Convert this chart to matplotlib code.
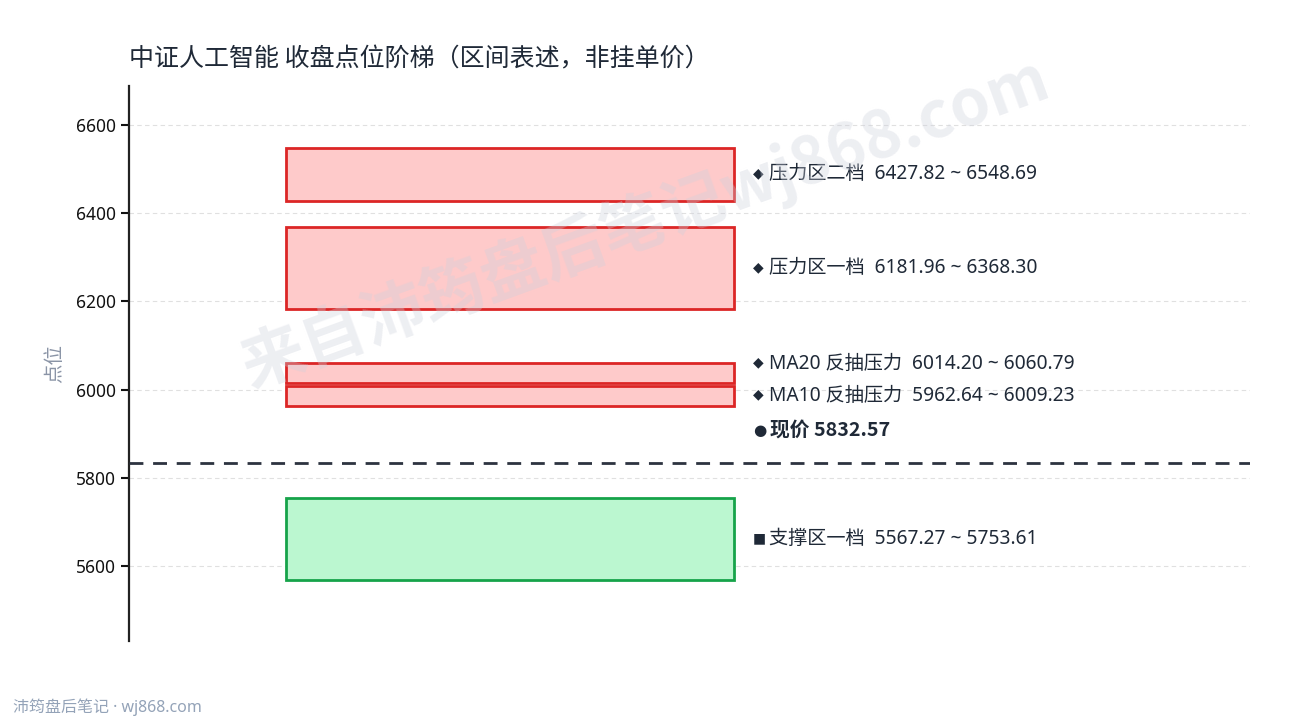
import matplotlib
matplotlib.use("Agg")
import matplotlib.pyplot as plt
from matplotlib.patches import Rectangle

plt.rcParams['font.family'] = ['Noto Sans CJK SC', 'DejaVu Sans']
MIX = ['Noto Sans', 'Noto Sans CJK SC', 'DejaVu Sans']

# ---- data ----
zone_names = ["压力区二档", "压力区一档", "MA20 反抽压力", "MA10 反抽压力", "支撑区一档"]
zone_low = [6427.82, 6181.96, 6014.20, 5962.64, 5567.27]
zone_high = [6548.69, 6368.30, 6060.79, 6009.23, 5753.61]
zone_kind = ["res", "res", "res", "res", "sup"]
price_label = "现价"
price = 5832.57
yticks = [5600, 5800, 6000, 6200, 6400, 6600]
title = "中证人工智能 收盘点位阶梯（区间表述，非挂单价）"
ylabel = "点位"
footer = "沛筠盘后笔记 · wj868.com"
watermark = "来自沛筠盘后笔记wj868.com"

colors = {"res": ("#fecaca", "#dc2626", "◆"), "sup": ("#bbf7d0", "#16a34a", "■")}
text_color = "#1f2937"

fig = plt.figure(figsize=(12.9, 7.2), dpi=100)
ax = fig.add_axes([0.1, 0.11, 0.869, 0.77])

ymin, ymax = 5430, 6688
ax.set_xlim(0, 1)
ax.set_ylim(ymin, ymax)

x0, x1 = 0.14, 0.54
for lo, hi, k in zip(zone_low, zone_high, zone_kind):
    fc, ec, _ = colors[k]
    ax.add_patch(Rectangle((x0, lo), x1 - x0, hi - lo, facecolor=fc,
                           edgecolor=ec, linewidth=2, zorder=3))

ax.axhline(price, color="#2d3340", linewidth=2, linestyle=(0, (5, 3.5)), zorder=4)

# label positions with minimum spacing
mids = [(lo + hi) / 2 for lo, hi in zip(zone_low, zone_high)]
order = sorted(range(len(mids)), key=lambda i: mids[i])
min_gap = 0.058 * (ymax - ymin)
pos = {}
last = None
for i in order:
    y = mids[i]
    if last is not None and y - last < min_gap:
        y = last + min_gap
    pos[i] = y
    last = y

lx = 0.5565
tx = lx + 0.0145
for i, name in enumerate(zone_names):
    _, _, mk = colors[zone_kind[i]]
    y = pos[i]
    ax.text(lx, y + 3, mk, fontsize=10, family="DejaVu Sans",
            color=text_color, va="center", ha="left", zorder=6)
    ax.text(tx, y, f"{name}  {zone_low[i]:.2f} ~ {zone_high[i]:.2f}",
            fontsize=13.8, family=MIX, color=text_color, va="center", ha="left", zorder=6)

py = price + 0.06 * (ymax - ymin)
ax.text(lx, py, "●", fontsize=11, family="DejaVu Sans", color=text_color,
        va="center", ha="left", zorder=6)
ax.text(tx + 0.001, py, f"{price_label} {price:.2f}", fontsize=14.2,
        family=['Noto Sans CJK SC', 'DejaVu Sans'],
        fontweight="bold", color=text_color, va="center", ha="left", zorder=6)

ax.set_yticks(yticks)
ax.set_xticks([])
ax.tick_params(axis='y', labelsize=12.5, length=6, width=1.5, colors="#111111")
for t in ax.get_yticklabels():
    t.set_family(MIX)
ax.grid(axis='y', color="#e0e0e0", linestyle=(0, (4, 3)), linewidth=0.8, zorder=0)
ax.set_axisbelow(True)
for s in ["top", "right", "bottom"]:
    ax.spines[s].set_visible(False)
ax.spines["left"].set_linewidth(1.6)
ax.spines["left"].set_color("#222222")
ax.set_ylabel(ylabel, fontsize=14, color="#8a94a6", labelpad=8)

fig.text(0.1, 0.918, title, fontsize=18, color=text_color, ha="left", va="center")
fig.text(0.01, 0.018, footer, fontsize=11.5, family=MIX, color="#94a3b8",
         ha="left", va="center")
fig.text(0.5, 0.69, watermark, fontsize=46, fontweight="bold", color="#cdd1dc",
         alpha=0.35, rotation=20, ha="center", va="center", zorder=10)

fig.savefig("out.png", dpi=100, facecolor="white")
